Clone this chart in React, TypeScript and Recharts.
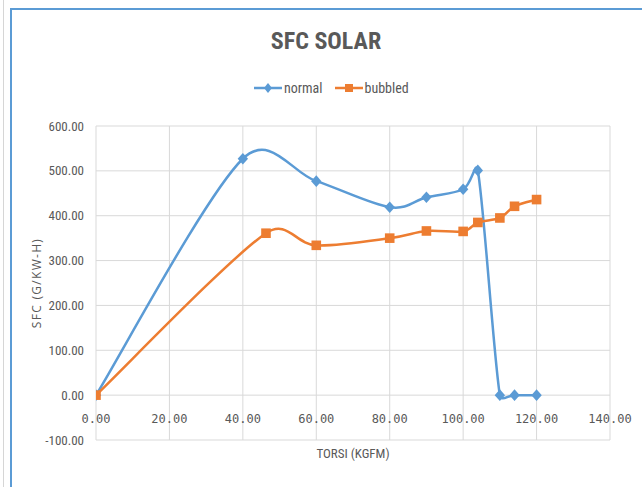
import React from "react";
import { LineChart, Line, XAxis, YAxis, CartesianGrid } from "recharts";

// values
const torsiNormal = [0, 40, 60, 80, 90, 100, 104, 110, 114, 120];
const sfcNormal = [0, 527, 477, 419, 441, 459, 501, 0, 0, 0];
const torsiBubbled = [0, 46.3, 60, 80, 90, 100, 104, 110, 114, 120];
const sfcBubbled = [0, 361, 334, 350, 366, 365, 385, 395, 421, 436];

const xTicks = [0, 20, 40, 60, 80, 100, 120, 140];
const yTicks = [-100, 0, 100, 200, 300, 400, 500, 600];

const BLUE = "#5B9BD5";
const ORANGE = "#ED7D31";
const TEXT = "#595959";
const GRID = "#D9D9D9";
const NARROW = '"Liberation Sans Narrow", "Arial Narrow", "Roboto Condensed", sans-serif';

const normalData = torsiNormal.map((x, i) => ({ x, y: sfcNormal[i] }));
const bubbledData = torsiBubbled.map((x, i) => ({ x, y: sfcBubbled[i] }));

const dist = (a: number[], b: number[]) => Math.hypot(a[0] - b[0], a[1] - b[1]);

// Excel-like smoothed line: tangent along (next - prev), control arm
// capped at half of the adjacent segment on each side. d3 curve factory.
// eslint-disable-next-line @typescript-eslint/no-explicit-any
function excelSmooth(context: any) {
  let pts: [number, number][] = [];
  return {
    areaStart() {},
    areaEnd() {},
    lineStart() {
      pts = [];
    },
    point(x: number, y: number) {
      pts.push([+x, +y]);
    },
    lineEnd() {
      const n = pts.length;
      if (!n) return;
      // forward / backward control points for every point
      const fwd: number[][] = [];
      const back: number[][] = [];
      for (let i = 0; i < n; i++) {
        const p0 = pts[Math.max(0, i - 1)];
        const p1 = pts[i];
        const p2 = pts[Math.min(n - 1, i + 1)];
        const d02 = dist(p0, p2);
        if (d02 === 0) {
          fwd.push(p1);
          back.push(p1);
          continue;
        }
        const ux = (p2[0] - p0[0]) / d02;
        const uy = (p2[1] - p0[1]) / d02;
        const aF = Math.min(d02 / 6, dist(p1, p2) / 2);
        const aB = Math.min(d02 / 6, dist(p0, p1) / 2);
        fwd.push([p1[0] + ux * aF, p1[1] + uy * aF]);
        back.push([p1[0] - ux * aB, p1[1] - uy * aB]);
      }
      context.moveTo(pts[0][0], pts[0][1]);
      for (let i = 0; i < n - 1; i++) {
        context.bezierCurveTo(fwd[i][0], fwd[i][1], back[i + 1][0], back[i + 1][1], pts[i + 1][0], pts[i + 1][1]);
      }
    },
  };
}

// eslint-disable-next-line @typescript-eslint/no-explicit-any
function DiamondDot({ cx, cy }: any) {
  if (cx == null || cy == null) return null;
  const r = 5.8;
  return <path d={`M${cx},${cy - r}L${cx + r - 0.6},${cy}L${cx},${cy + r}L${cx - r + 0.6},${cy}Z`} fill={BLUE} />;
}

// eslint-disable-next-line @typescript-eslint/no-explicit-any
function SquareDot({ cx, cy }: any) {
  if (cx == null || cy == null) return null;
  const s = 4.8;
  return <rect x={cx - s} y={cy - s} width={s * 2} height={s * 2} fill={ORANGE} />;
}

// eslint-disable-next-line @typescript-eslint/no-explicit-any
function YTick({ x, y, payload }: any) {
  return (
    <text x={x - 4} y={y} dy={4.5} textAnchor="end" fill={TEXT} fontSize={13} fontFamily={NARROW}>
      {Number(payload.value).toFixed(2)}
    </text>
  );
}

// eslint-disable-next-line @typescript-eslint/no-explicit-any
function XTick({ x, y, payload }: any) {
  return (
    <text x={x} y={y} dy={-25} textAnchor="middle" fill={TEXT} fontSize={12} fontFamily='"DejaVu Sans Mono", monospace'>
      {Number(payload.value).toFixed(2)}
    </text>
  );
}

function LegendItem({ label, color, square }: { label: string; color: string; square?: boolean }) {
  return (
    <span style={{ display: "inline-flex", alignItems: "center", marginRight: 12 }}>
      <svg width={28} height={12} style={{ marginRight: 2 }}>
        <line x1={0} y1={6} x2={28} y2={6} stroke={color} strokeWidth={2.5} />
        {square ? (
          <rect x={10} y={2} width={8} height={8} fill={color} />
        ) : (
          <path d="M14,1L18,6L14,11L10,6Z" fill={color} />
        )}
      </svg>
      <span>{label}</span>
    </span>
  );
}

export default function App() {
  return (
    <div style={{ position: "absolute", left: 0, top: 0, width: 642, height: 487, background: "#fff", overflow: "hidden" }}>
      <div style={{ position: "absolute", left: 3, top: 0, width: 1, height: 487, background: "#D6D6D6" }} />
      <div
        style={{
          position: "absolute",
          left: 10,
          top: 8,
          width: 700,
          height: 600,
          borderLeft: `2px solid ${BLUE}`,
          borderTop: `2px solid ${BLUE}`,
        }}
      />
      <div
        style={{
          position: "absolute",
          left: 226,
          top: 27,
          width: 200,
          textAlign: "center",
          fontFamily: NARROW,
          fontWeight: 700,
          fontSize: 24,
          lineHeight: "28px",
          color: TEXT,
        }}
      >
        SFC SOLAR
      </div>
      <div
        style={{
          position: "absolute",
          left: 254,
          top: 80,
          display: "flex",
          fontFamily: NARROW,
          fontSize: 14,
          lineHeight: "16px",
          color: TEXT,
        }}
      >
        <LegendItem label="normal" color={BLUE} />
        <LegendItem label="bubbled" color={ORANGE} square />
      </div>
      <div style={{ position: "absolute", left: 0, top: 0 }}>
        <LineChart width={642} height={487} margin={{ top: 126, right: 32, bottom: 17, left: 36 }}>
          <CartesianGrid stroke={GRID} strokeWidth={1} />
          <XAxis
            dataKey="x"
            type="number"
            domain={[0, 140]}
            ticks={xTicks}
            allowDataOverflow
            axisLine={false}
            tickLine={false}
            height={30}
            tick={<XTick />}
            interval={0}
            label={{
              content: ({ viewBox }: any) => (
                <text
                  x={viewBox.x + viewBox.width / 2}
                  y={viewBox.y + 18}
                  textAnchor="middle"
                  fill={TEXT}
                  fontSize={13}
                  fontFamily={NARROW}
                >
                  TORSI (KGFM)
                </text>
              ),
            }}
          />
          <YAxis
            type="number"
            domain={[-100, 600]}
            ticks={yTicks}
            axisLine={false}
            tickLine={false}
            width={60}
            tick={<YTick />}
            interval={0}
            label={{
              content: ({ viewBox }: any) => {
                const cx = viewBox.x + 5;
                const cy = viewBox.y + viewBox.height / 2;
                return (
                  <text
                    x={cx}
                    y={cy}
                    transform={`rotate(-90 ${cx} ${cy})`}
                    textAnchor="middle"
                    fill={TEXT}
                    fontSize={12}
                    letterSpacing={1.3}
                    fontFamily='"Open Sans", sans-serif'
                  >
                    SFC (G/KW-H)
                  </text>
                );
              },
            }}
          />
          <Line
            data={normalData}
            dataKey="y"
            name="normal"
            type={excelSmooth as any}
            stroke={BLUE}
            strokeWidth={2.5}
            dot={<DiamondDot />}
            activeDot={false}
            isAnimationActive={false}
          />
          <Line
            data={bubbledData}
            dataKey="y"
            name="bubbled"
            type={excelSmooth as any}
            stroke={ORANGE}
            strokeWidth={2.5}
            dot={<SquareDot />}
            activeDot={false}
            isAnimationActive={false}
          />
        </LineChart>
      </div>
    </div>
  );
}
